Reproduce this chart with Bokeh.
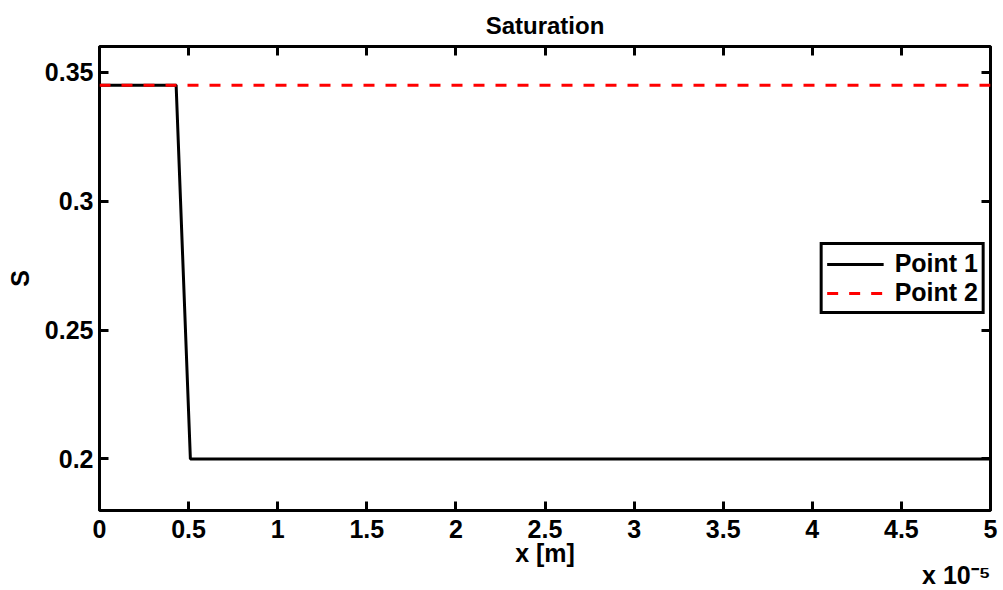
import math

from bokeh.embed import file_html
from bokeh.models import (CustomJSTickFormatter, FixedTicker, Legend,
                          LegendItem, LinearAxis, Range1d, Title)
from bokeh.plotting import figure
from bokeh.resources import INLINE

# Saturation at the two monitoring points along x (metres)
x_point1 = [0.0, 0.43e-5, 0.51e-5, 5.0e-5]
s_point1 = [0.345, 0.345, 0.2, 0.2]
x_point2 = [0.0, 5.0e-5]
s_point2 = [0.345, 0.345]

# x is shown in units of 1e-5 m
x_scale = 1e-5
x_ticks = [0, 0.5, 1, 1.5, 2, 2.5, 3, 3.5, 4, 4.5, 5]
y_ticks = [0.2, 0.25, 0.3, 0.35]

FONT = "Liberation Sans"
FS = "25px"

p = figure(width=1003, height=590,
           x_range=Range1d(0, 5), y_range=Range1d(0.18, 0.36),
           output_backend="svg", toolbar_location=None,
           min_border_left=99, min_border_right=13,
           min_border_top=46, min_border_bottom=80,
           x_axis_type=None, y_axis_type=None)

p.background_fill_color = "white"
p.border_fill_color = "white"
p.outline_line_color = "black"
p.outline_line_width = 3
p.xgrid.visible = False
p.ygrid.visible = False

p.title.text = "Saturation"
p.title.align = "center"
p.title.text_font = FONT
p.title.text_font_size = "24px"
p.title.text_font_style = "bold"
p.title.text_color = "black"
p.title.standoff = 15

num_fmt = CustomJSTickFormatter(code="return String(tick);")
blank_fmt = CustomJSTickFormatter(code="return '';")


def style_axis(ax, fmt, standoff):
    ax.formatter = fmt
    ax.axis_line_color = None
    ax.major_tick_in = 9
    ax.major_tick_out = 0
    ax.major_tick_line_width = 3
    ax.major_tick_line_color = "black"
    ax.minor_tick_line_color = None
    ax.major_label_text_font = FONT
    ax.major_label_text_font_size = FS
    ax.major_label_text_font_style = "bold"
    ax.major_label_text_color = "black"
    ax.major_label_standoff = standoff
    ax.axis_label_text_font = FONT
    ax.axis_label_text_font_size = FS
    ax.axis_label_text_font_style = "bold"
    ax.axis_label_text_color = "black"


xb = LinearAxis(ticker=FixedTicker(ticks=x_ticks), axis_label="x [m]")
style_axis(xb, num_fmt, 9)
xb.axis_label_standoff = -2
p.add_layout(xb, "below")
yl = LinearAxis(ticker=FixedTicker(ticks=y_ticks), axis_label="S")
style_axis(yl, num_fmt, 6)
yl.axis_label_standoff = 8
p.add_layout(yl, "left")
xt = LinearAxis(ticker=FixedTicker(ticks=x_ticks))
style_axis(xt, blank_fmt, 0)
xt.major_label_text_font_size = "1px"
p.add_layout(xt, "above")
yr = LinearAxis(ticker=FixedTicker(ticks=y_ticks))
style_axis(yr, blank_fmt, 0)
yr.major_label_text_font_size = "1px"
p.add_layout(yr, "right")

# scale factor of the x axis, under the axis label at the right end
mult = Title(text="x 10\u207b\u2075", align="right",
             text_font=FONT, text_font_size=FS, text_font_style="bold",
             text_color="black", standoff=-22)
p.add_layout(mult, "below")

xs1 = [v / x_scale for v in x_point1]
xs2 = [v / x_scale for v in x_point2]
r1 = p.line(xs1, s_point1, line_color="black", line_width=3)
r2 = p.line(xs2, s_point2, line_color="#ff0000", line_width=3,
            line_dash="11 11")

legend = Legend(items=[LegendItem(label="Point 1", renderers=[r1]),
                       LegendItem(label="Point 2", renderers=[r2])],
                location="center_right")
legend.margin = 5
legend.padding = 4
legend.spacing = 0
legend.glyph_width = 57
legend.label_standoff = 11
legend.label_text_font = FONT
legend.label_text_font_size = FS
legend.label_text_font_style = "bold"
legend.label_text_color = "black"
legend.border_line_color = "black"
legend.border_line_alpha = 1
legend.border_line_width = 3
legend.background_fill_alpha = 1
p.add_layout(legend)

open("out.html", "w").write(file_html(p, INLINE))
